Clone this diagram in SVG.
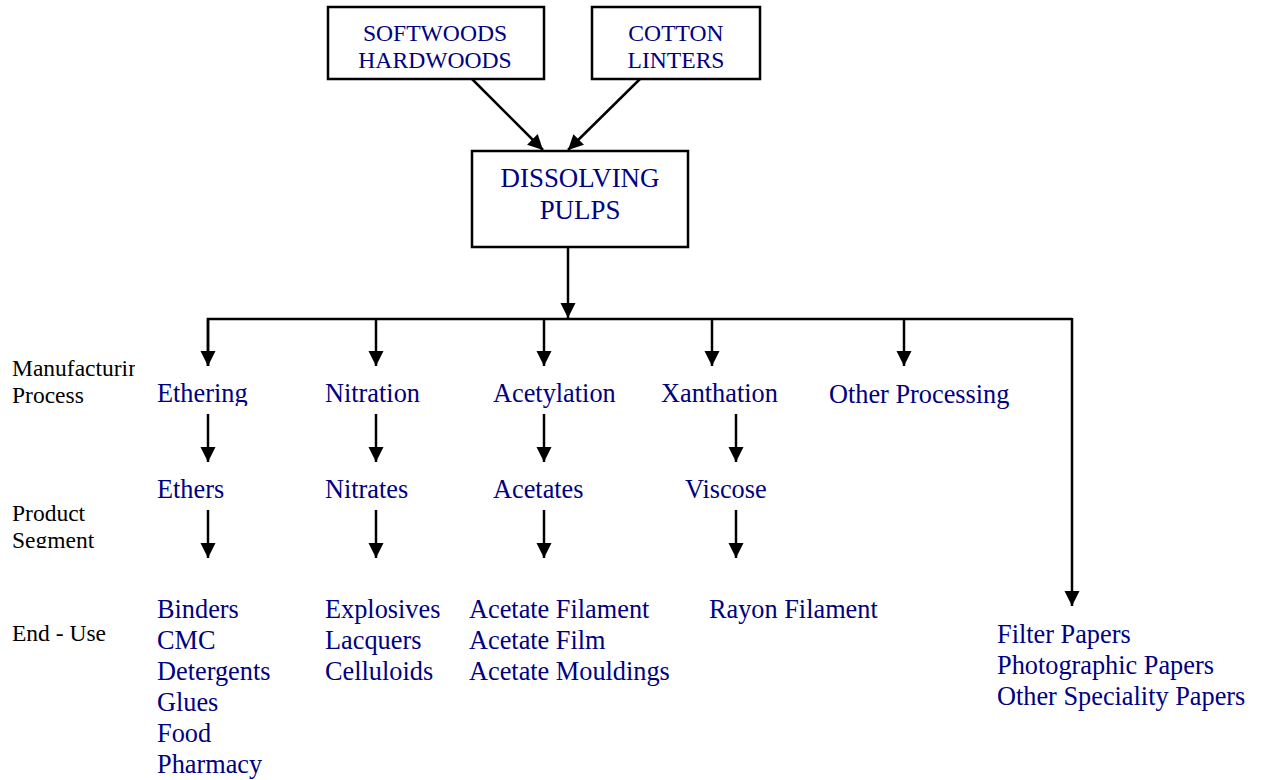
<svg xmlns="http://www.w3.org/2000/svg" width="1267" height="780" viewBox="0 0 1267 780">
<defs>
<marker id="ah" markerUnits="userSpaceOnUse" markerWidth="16" markerHeight="16" viewBox="0 0 16 16" refX="15" refY="8" orient="auto">
<path d="M0,0.5 L15,8 L0,15.5 Z" fill="#000"/>
</marker>
<clipPath id="clipMan"><rect x="0" y="340" width="135" height="80"/></clipPath>
<clipPath id="clipEth"><rect x="140" y="370" width="140" height="36"/></clipPath>
<clipPath id="clipSeg"><rect x="0" y="490" width="150" height="58"/></clipPath>
</defs>
<style>
.box{fill:#fff;stroke:#000;stroke-width:2.5}
.t{font-family:"Liberation Serif","Times New Roman",serif;fill:#000080}
.lbl{font-family:"Liberation Serif","Times New Roman",serif;fill:#000;font-size:23.5px}
.m{font-size:26.3px}
.top{font-size:23.6px}
.big{font-size:26.9px}
.c{stroke:#000;stroke-width:2.5;fill:none}
.a{marker-end:url(#ah)}
</style>
<rect width="1267" height="780" fill="#fff"/>

<g id="node-woods">
<rect class="box" x="328" y="7" width="216" height="72"/>
<text class="t top" x="435" y="41" text-anchor="middle">SOFTWOODS</text>
<text class="t top" x="435" y="68" text-anchor="middle">HARDWOODS</text>
</g>
<g id="node-cotton">
<rect class="box" x="592" y="7" width="168" height="72"/>
<text class="t top" x="676" y="41" text-anchor="middle">COTTON</text>
<text class="t top" x="676" y="68" text-anchor="middle">LINTERS</text>
</g>
<g id="node-pulps">
<rect class="box" x="472" y="151" width="216" height="96"/>
<text class="t big" x="580" y="187" text-anchor="middle">DISSOLVING</text>
<text class="t big" x="580" y="219" text-anchor="middle">PULPS</text>
</g>

<g id="row-labels">
<text class="lbl" x="12" y="376" clip-path="url(#clipMan)">Manufacturing</text>
<text class="lbl" x="12" y="403">Process</text>
<text class="lbl" x="12" y="521" clip-path="url(#clipSeg)">Product</text>
<text class="lbl" x="12" y="548" clip-path="url(#clipSeg)">Segment</text>
<text class="lbl" x="12" y="641">End - Use</text>
</g>

<g id="node-ethering"><text class="t m" x="157" y="402" clip-path="url(#clipEth)">Ethering</text></g>
<g id="node-nitration"><text class="t m" x="325" y="402">Nitration</text></g>
<g id="node-acetylation"><text class="t m" x="493" y="402">Acetylation</text></g>
<g id="node-xanthation"><text class="t m" x="661" y="402">Xanthation</text></g>
<g id="node-other"><text class="t m" x="829" y="403">Other Processing</text></g>

<g id="node-ethers"><text class="t m" x="157" y="498">Ethers</text></g>
<g id="node-nitrates"><text class="t m" x="325" y="498">Nitrates</text></g>
<g id="node-acetates"><text class="t m" x="493" y="498">Acetates</text></g>
<g id="node-viscose"><text class="t m" x="685" y="498">Viscose</text></g>

<g id="node-ethers-uses">
<text class="t m" x="157" y="618">Binders</text>
<text class="t m" x="157" y="649">CMC</text>
<text class="t m" x="157" y="680">Detergents</text>
<text class="t m" x="157" y="711">Glues</text>
<text class="t m" x="157" y="742">Food</text>
<text class="t m" x="157" y="773">Pharmacy</text>
</g>
<g id="node-nitrates-uses">
<text class="t m" x="325" y="618">Explosives</text>
<text class="t m" x="325" y="649">Lacquers</text>
<text class="t m" x="325" y="680">Celluloids</text>
</g>
<g id="node-acetates-uses">
<text class="t m" x="469" y="618">Acetate Filament</text>
<text class="t m" x="469" y="649">Acetate Film</text>
<text class="t m" x="469" y="680">Acetate Mouldings</text>
</g>
<g id="node-viscose-uses">
<text class="t m" x="709" y="618">Rayon Filament</text>
</g>
<g id="node-papers">
<text class="t m" x="997" y="643">Filter Papers</text>
<text class="t m" x="997" y="674">Photographic Papers</text>
<text class="t m" x="997" y="705">Other Speciality Papers</text>
</g>

<g id="connectors">
<line class="c a" x1="472" y1="79" x2="543" y2="150"/>
<line class="c a" x1="640" y1="79" x2="568" y2="150"/>
<line class="c a" x1="568" y1="247" x2="568" y2="318"/>
<polyline class="c" points="208,366 208,319 1072,319"/>
<line class="c a" x1="208" y1="319" x2="208" y2="366"/>
<line class="c a" x1="376" y1="319" x2="376" y2="366"/>
<line class="c a" x1="544" y1="319" x2="544" y2="366"/>
<line class="c a" x1="712" y1="319" x2="712" y2="366"/>
<line class="c a" x1="904" y1="319" x2="904" y2="366"/>
<line class="c a" x1="1072" y1="318" x2="1072" y2="606"/>
<line class="c a" x1="208" y1="414" x2="208" y2="462"/>
<line class="c a" x1="376" y1="414" x2="376" y2="462"/>
<line class="c a" x1="544" y1="414" x2="544" y2="462"/>
<line class="c a" x1="736" y1="414" x2="736" y2="462"/>
<line class="c a" x1="208" y1="510" x2="208" y2="558"/>
<line class="c a" x1="376" y1="510" x2="376" y2="558"/>
<line class="c a" x1="544" y1="510" x2="544" y2="558"/>
<line class="c a" x1="736" y1="510" x2="736" y2="558"/>
</g>
</svg>
